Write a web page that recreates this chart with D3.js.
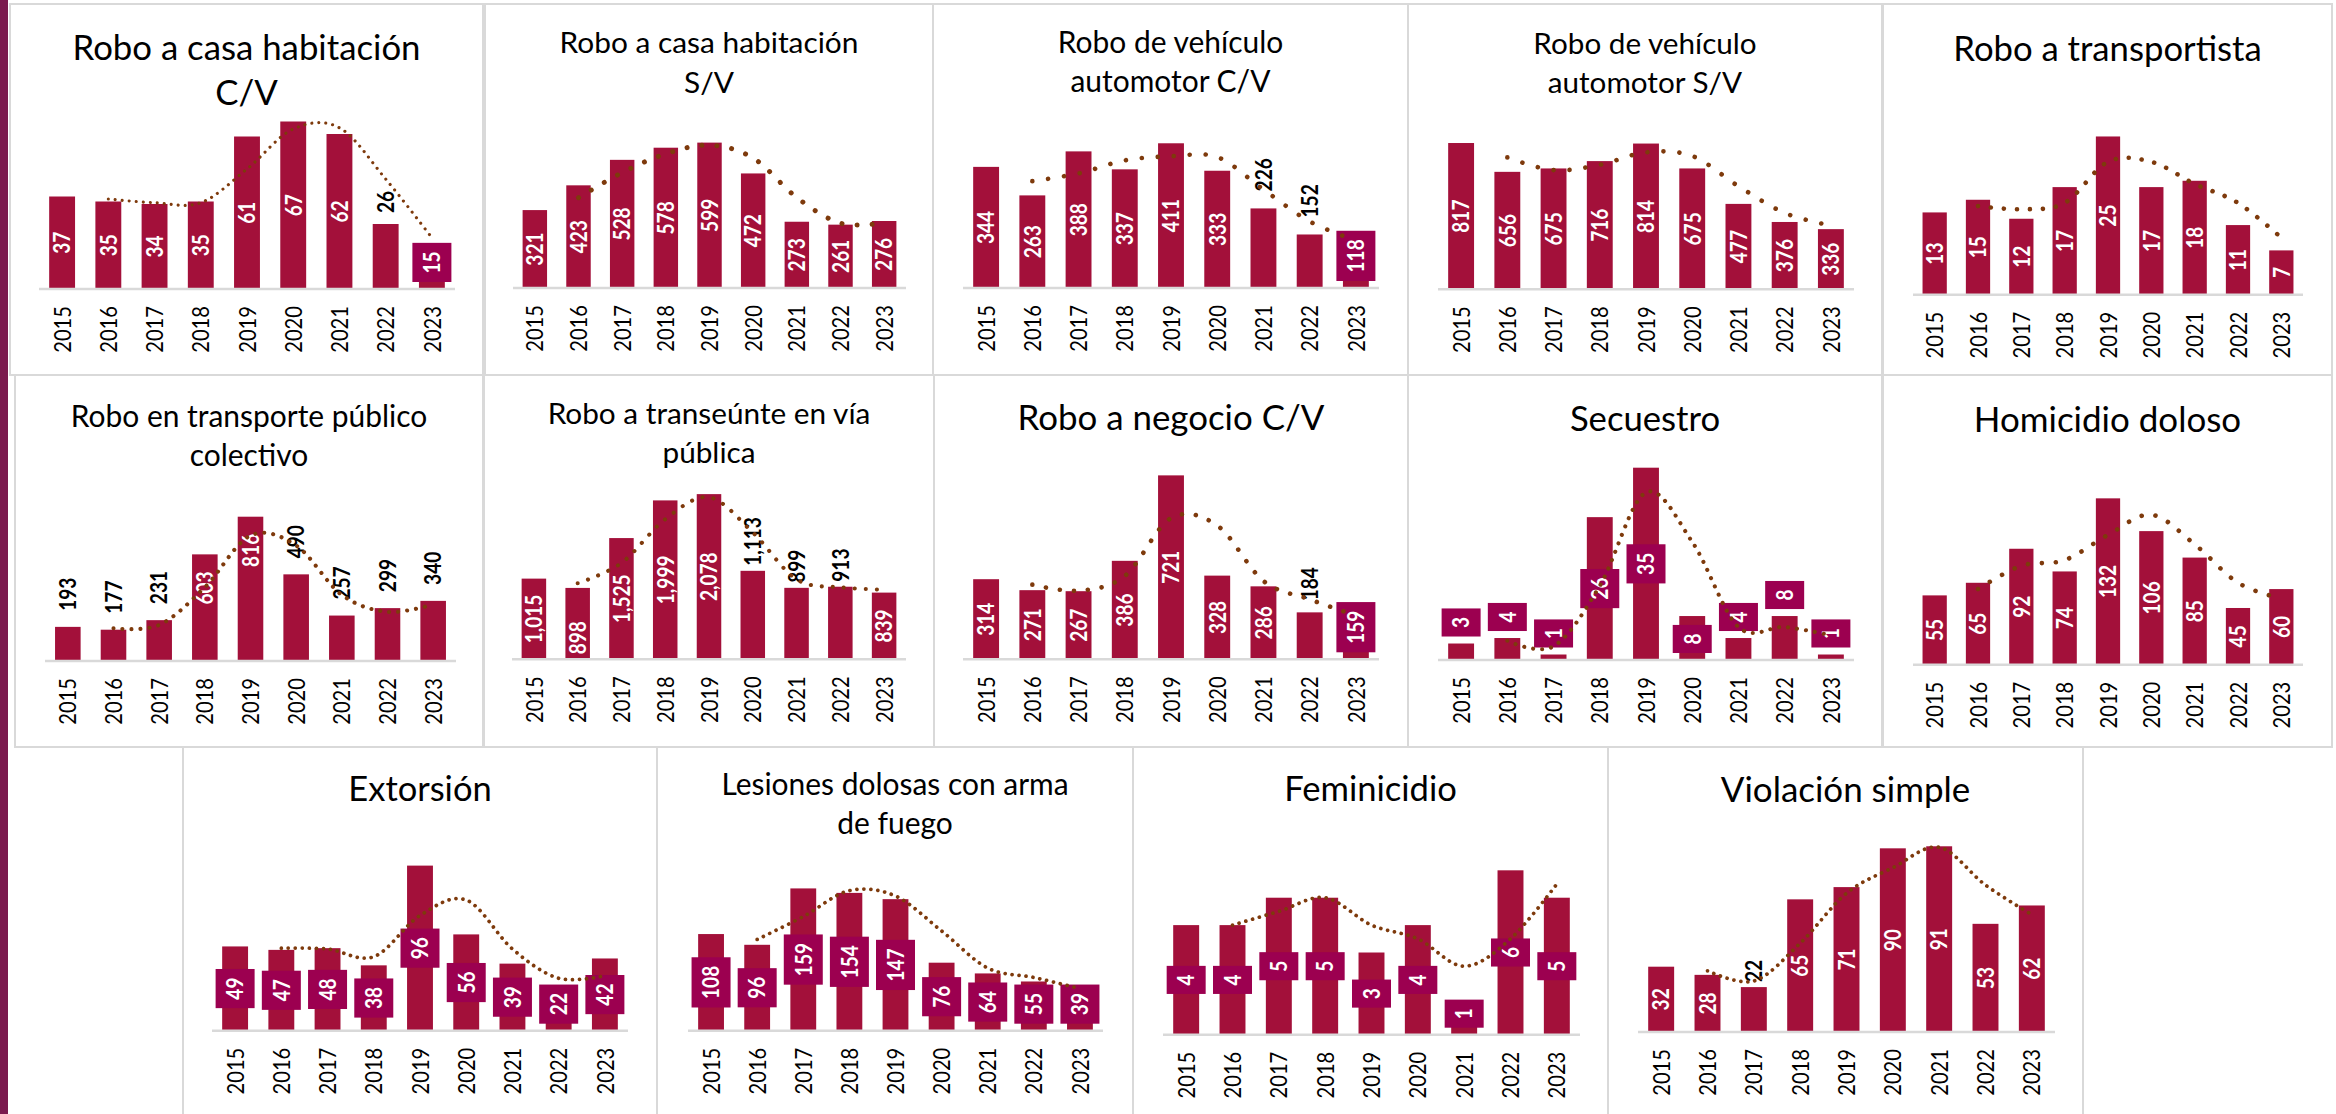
<!DOCTYPE html>
<html><head><meta charset="utf-8">
<script src="https://cdn.jsdelivr.net/npm/d3@7"></script>
<style>html,body{margin:0;padding:0;background:#fff;}svg{display:block;}</style>
</head><body>
<svg id="c" width="2336" height="1114"></svg>
<script>
// ---------- DATA ----------
const years = ["2015","2016","2017","2018","2019","2020","2021","2022","2023"];
const titles = [
  ["Robo a casa habitación","C/V"],
  ["Robo a casa habitación","S/V"],
  ["Robo de vehículo","automotor C/V"],
  ["Robo de vehículo","automotor S/V"],
  ["Robo a transportista"],
  ["Robo en transporte público","colectivo"],
  ["Robo a transeúnte en vía","pública"],
  ["Robo a negocio C/V"],
  ["Secuestro"],
  ["Homicidio doloso"],
  ["Extorsión"],
  ["Lesiones dolosas con arma","de fuego"],
  ["Feminicidio"],
  ["Violación simple"]
];
const roboCasaCV      = [37,35,34,35,61,67,62,26,15];
const roboCasaSV      = [321,423,528,578,599,472,273,261,276];
const roboVehiculoCV  = [344,263,388,337,411,333,226,152,118];
const roboVehiculoSV  = [817,656,675,716,814,675,477,376,336];
const roboTransportista = [13,15,12,17,25,17,18,11,7];
const roboTransportePublico = [193,177,231,603,816,490,257,299,340];
const roboTranseunte  = [1015,898,1525,1999,2078,1113,899,913,839];
const roboNegocioCV   = [314,271,267,386,721,328,286,184,159];
const secuestro       = [3,4,1,26,35,8,4,8,1];
const homicidioDoloso = [55,65,92,74,132,106,85,45,60];
const extorsion       = [49,47,48,38,96,56,39,22,42];
const lesionesFuego   = [108,96,159,154,147,76,64,55,39];
const feminicidio     = [4,4,5,5,3,4,1,6,5];
const violacionSimple = [32,28,22,65,71,90,91,53,62];
const series = [roboCasaCV, roboCasaSV, roboVehiculoCV, roboVehiculoSV, roboTransportista,
  roboTransportePublico, roboTranseunte, roboNegocioCV, secuestro, homicidioDoloso,
  extorsion, lesionesFuego, feminicidio, violacionSimple];

// ---------- LABEL STYLES ----------
// c: white centre, o: black outside end, e: white inside end, b: white inside base
// C/O/B: boxed label at centre / outside end / inside base
const labelModes = ["cccccccoB","ccccccccc","ccccccooB","ccccccccc","ccccccccc",
  "oooeeoooo","cbcccoooc","cccccccoB","OOOCCBOOO","ccccccccc",
  "CCCCCCCBC","CCCCCCCBB","CCCCCCBCC","ccocccccc"];

// ---------- LAYOUT ----------
const panels = [
  {box:[10,4,483,375],   axis:[39,455],   base:289,    yMax:80,    tY:[56,101],    ts:36.8, dot:[2.5,7],  outGap:11},
  {box:[485,4,933,375],  axis:[513,906],  base:288,    yMax:824,   tY:[49,89],     ts:31.6, dot:[4,15],   outGap:15},
  {box:[933,4,1408,375], axis:[963,1379], base:288,    yMax:568,   tY:[49.3,87.7], ts:31.7, dot:[3.7,16], outGap:17},
  {box:[1408,4,1882,375],axis:[1438,1854],base:289.3,  yMax:1117,  tY:[50.3,89.3], ts:31.4, dot:[3.7,16], outGap:15},
  {box:[1883,4,2332,375],axis:[1913,2303],base:294.7,  yMax:31.6,  tY:[57],        ts:36.7, dot:[3.7,13], outGap:15},
  {box:[15,375,483,747], axis:[45,456],   base:661,    yMax:1131,  tY:[52.3,91],   ts:31.7, dot:[3.3,9],  outGap:16},
  {box:[484,375,934,747],axis:[512,906],  base:659.3,  yMax:2516,  tY:[49.3,87.7], ts:31.5, dot:[3.3,11], outGap:5},
  {box:[934,375,1408,747],axis:[963,1379],base:659.3,  yMax:784,   tY:[55],        ts:36.9, dot:[3.7,14], outGap:12},
  {box:[1408,375,1882,747],axis:[1438,1854],base:660,  yMax:36.4,  tY:[55.7],      ts:36.7, dot:[3.3,9],  outGap:15},
  {box:[1883,375,2332,747],axis:[1913,2303],base:664.7,yMax:158.7, tY:[56.7],      ts:37,   dot:[3.7,14], outGap:15},
  {box:[183,747,657,1122],axis:[212,628], base:1030.7, yMax:116.3, tY:[53.7],      ts:36.5, dot:[3,7],    outGap:15},
  {box:[657,747,1133,1122],axis:[688,1103],base:1030.7,yMax:223.5, tY:[48,87],     ts:31.7, dot:[3,7],    outGap:15},
  {box:[1133,747,1608,1122],axis:[1163,1580],base:1034.7,yMax:7.3, tY:[54],        ts:36.6, dot:[3,7],    outGap:15},
  {box:[1608,747,2083,1122],axis:[1638,2055],base:1032,yMax:98,    tY:[54.7],      ts:37,   dot:[3,7],    outGap:5}
];

const FONT = "Lato, 'Noto Sans', sans-serif";
const BAR = "#A3103A", BOX = "#9C0050", TREND = "#7E3A0C", GRID = "#D9D9D9";
const TICK_SIZE = 24, TICK_SX = 0.84, LAB_SIZE = 23, LAB_SX = 0.83, TITLE_K = 0.945;
const fmt = d3.format(",");

const svg = d3.select("#c");
svg.append("rect").attr("x",0).attr("y",0).attr("width",2336).attr("height",1114).attr("fill","#fff");
svg.append("rect").attr("x",0).attr("y",0).attr("width",8).attr("height",1114).attr("fill","#7B1A4E");

panels.forEach((p,i)=>{
  const g = svg.append("g");
  g.append("rect").attr("x",p.box[0]).attr("y",p.box[1])
    .attr("width",p.box[2]-p.box[0]).attr("height",p.box[3]-p.box[1])
    .attr("fill","#fff").attr("stroke",GRID).attr("stroke-width",2);
  const cx = (p.box[0]+p.box[2])/2;
  titles[i].forEach((t,k)=>{
    g.append("text").attr("x",cx).attr("y",p.box[1]+p.tY[k])
      .attr("text-anchor","middle").attr("font-family",FONT)
      .attr("font-size",p.ts*TITLE_K).attr("fill","#000").text(t);
  });

  const x = d3.scaleBand().domain(years).range([p.axis[0],p.axis[1]]).paddingInner(0.44).paddingOuter(0.22);
  const y = d3.scaleLinear().domain([0,p.yMax]).range([p.base,p.base-200]);
  const vals = series[i];
  const bw = x.bandwidth();

  g.selectAll("rect.bar").data(vals).join("rect").attr("class","bar")
    .attr("x",(d,j)=>x(years[j])).attr("width",bw)
    .attr("y",d=>y(d)).attr("height",d=>p.base-y(d)).attr("fill",BAR);

  // axis
  const ax = g.append("g").attr("transform",`translate(0,${p.base})`)
    .call(d3.axisBottom(x).tickSize(0).tickSizeOuter(0));
  ax.select(".domain").attr("stroke",GRID).attr("stroke-width",2.5)
    .attr("d",`M${p.axis[0]},0H${p.axis[1]}`);
  ax.selectAll(".tick text").attr("y",null).attr("dy","0.36em")
    .attr("transform",`translate(0,17) rotate(-90) scale(${TICK_SX},1)`)
    .attr("text-anchor","end").attr("font-family",FONT).attr("font-size",TICK_SIZE).attr("fill","#000");

  // labels
  const lg = g.append("g");
  vals.forEach((v,j)=>{
    const m = labelModes[i][j];
    const bx = x(years[j]) + bw/2;
    const top = y(v), mid = (top+p.base)/2;
    const t = lg.append("text").text(fmt(v))
      .attr("font-family",FONT).attr("font-weight",700).attr("font-size",LAB_SIZE)
      .attr("dy","0.36em");
    let anchor="middle", ay=mid, fill="#fff";
    if (m==='o'){ anchor="start"; ay=top-p.outGap; fill="#000"; }
    else if (m==='e'){ anchor="end"; ay=top+17; }
    else if (m==='b'){ anchor="start"; ay=p.base-5; }
    else if (m==='C'||m==='O'||m==='B'){
      const L = t.node().getComputedTextLength()*LAB_SX;
      const bh = L+17;
      let c = mid;
      if (m==='O') c = top-7-bh/2;
      if (m==='B') c = p.base-7-bh/2;
      ay = c;
      lg.insert("rect","text").attr("x",bx-19.5).attr("width",39)
        .attr("y",c-bh/2).attr("height",bh).attr("fill",BOX);
    }
    t.attr("text-anchor",anchor).attr("fill",fill)
     .attr("transform",`translate(${bx},${ay}) rotate(-90) scale(${LAB_SX},1)`);
  });
  lg.selectAll("rect").lower();

  // trend line: 2-period moving average (Excel trendline)
  const ma = years.slice(1).map((yr,j)=>({yr, v:(vals[j]+vals[j+1])/2}));
  const line = d3.line().x(d=>x(d.yr)+bw/2).y(d=>y(d.v)).curve(d3.curveCardinal.tension(0));
  g.append("path").attr("d",line(ma)).attr("fill","none").attr("stroke",TREND)
    .attr("stroke-width",p.dot[0]*1.25).attr("stroke-linecap","round")
    .attr("stroke-dasharray",`0.01,${p.dot[1]}`);
});
</script>
</body></html>
